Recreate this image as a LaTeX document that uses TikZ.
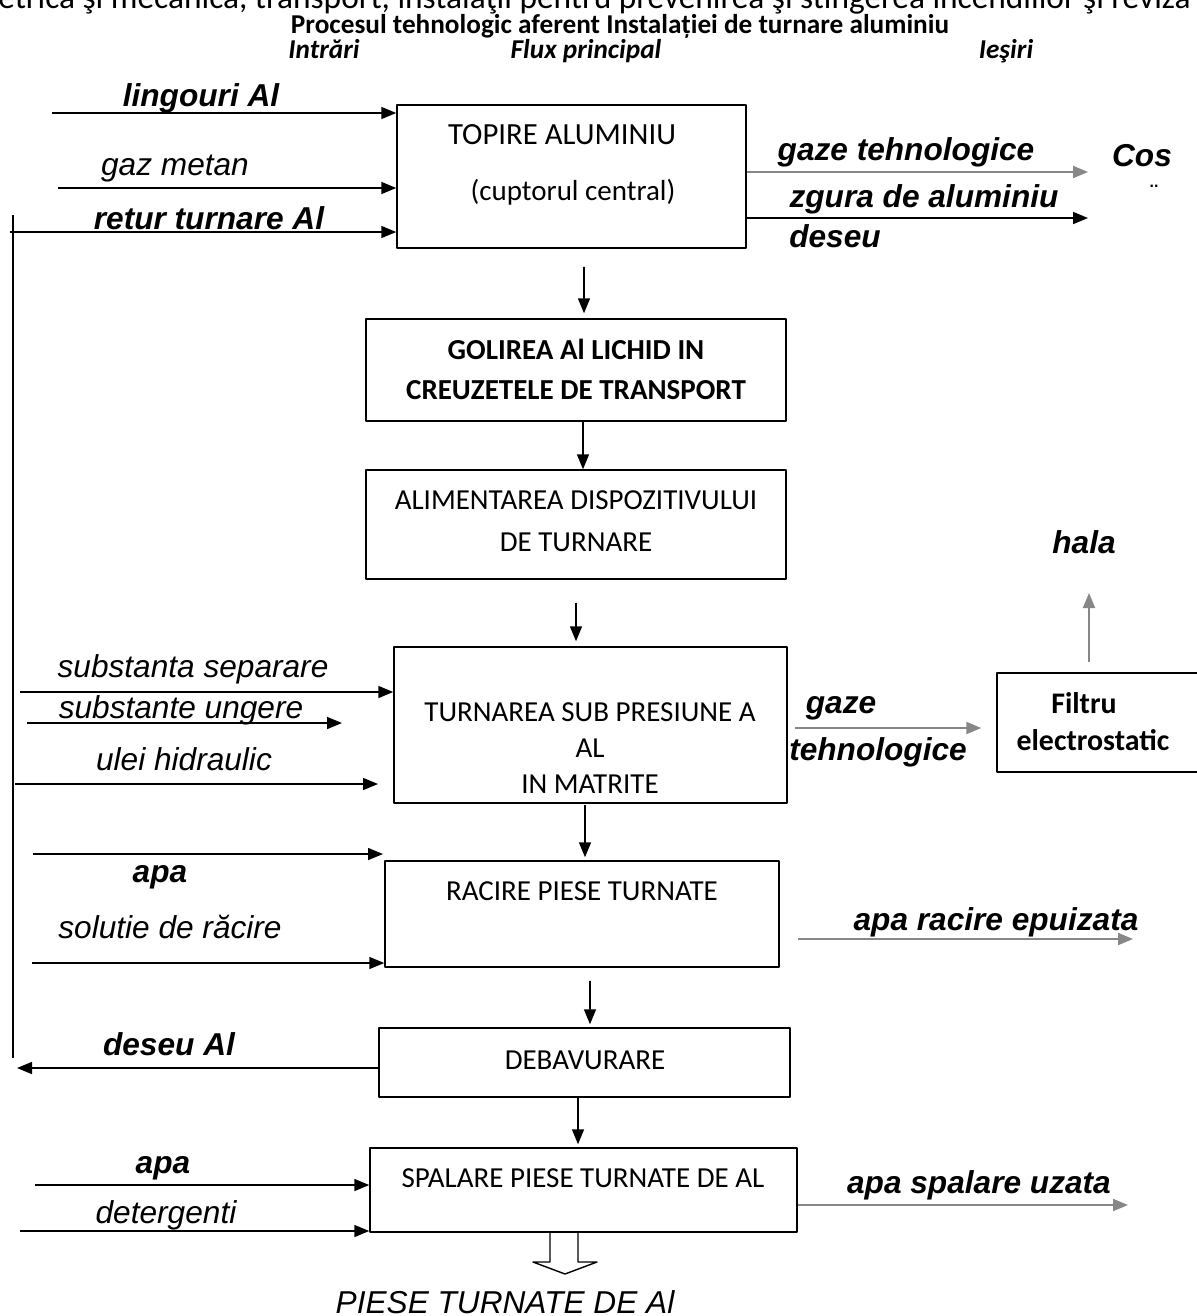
\documentclass[tikz,border=0pt]{standalone}
\usepackage{fontspec}
\setmainfont{Carlito}
\newfontfamily\arialf{Liberation Sans}
\usetikzlibrary{arrows.meta,calc,fit}
\definecolor{outgray}{RGB}{135,135,135}
\tikzset{
  box/.style={draw, line width=0.85pt, inner sep=0pt},
  boxtext/.style={font=\fontsize{16.5}{20.4}\selectfont, align=center, inner sep=0pt},
  head/.style={font=\bfseries\itshape\fontsize{15.5}{18}\selectfont, anchor=base, inner sep=0pt},
  lbl/.style={font=\arialf\itshape\fontsize{18}{21}\selectfont, inner sep=0pt, anchor=base},
  lblb/.style={font=\arialf\bfseries\itshape\fontsize{18}{21}\selectfont, inner sep=0pt, anchor=base},
  arr/.style={-{Triangle[length=3mm,width=2.4mm]}, line width=0.9pt},
  garr/.style={-{Triangle[length=3mm,width=2.4mm]}, line width=1.1pt, color=outgray},
}
\begin{document}
\begin{tikzpicture}[x=0.2mm, y=-0.2mm, line join=round]
\useasboundingbox (0,0) rectangle (1197,1316);
%%%%%%%%%%%%%%%%%%%%%%%%%%%%%%%%%
\node[font=\fontsize{19}{22}\selectfont, anchor=base west, inner sep=0pt] (antet) at (-2,8) {etrica şi mecanica, transport, instalaţii pentru prevenirea şi stingerea incendiilor şi reviza};
\node[font=\bfseries\fontsize{15.5}{18}\selectfont, anchor=base, inner sep=0pt] (titlu) at (620,33) {Procesul tehnologic aferent Instalației de turnare aluminiu};
\node[head] (intrari) at (324,58) {Intrări};
\node[head] (flux) at (586,58) {Flux principal};
\node[head] (iesiri) at (1006,58) {Ieşiri};
%%%%%%%%%%%%%%%%%%%%%%%%%%%%%%%%%
\node[box, fit={(397,105) (746,248)}] (topire) {};
\node[box, fit={(366,319) (786,421)}] (golire) {};
\node[box, fit={(366,470) (786,579)}] (aliment) {};
\node[box, fit={(394,647) (787,803)}] (turnare) {};
\node[box, fit={(385,861) (779,967)}] (racire) {};
\node[box, fit={(379,1028) (790,1097)}] (debav) {};
\node[box, fit={(370,1148) (797,1232)}] (spalare) {};
\node[box, fit={(997,673) (1220,772)}] (filtru) {};
%%%%%%%%%%%%%%%%%%%%%%%%%%%%%%%%%
\node[boxtext, font=\fontsize{17.5}{21}\selectfont] (t1a) at (562,135) {TOPIRE ALUMINIU};
\node[boxtext] (t1b) at (573,192) {(cuptorul central)};
\node[boxtext, font=\bfseries\fontsize{16.5}{22.7}\selectfont] (t2) at (576,369) {GOLIREA Al LICHID IN\\CREUZETELE DE TRANSPORT};
\node[boxtext, font=\fontsize{16.5}{23.8}\selectfont] (t3) at (576,521) {ALIMENTAREA DISPOZITIVULUI\\DE TURNARE};
\node[boxtext] (t4) at (590,748) {TURNAREA SUB PRESIUNE A\\AL\\IN MATRITE};
\node[boxtext] (t5) at (582,891) {RACIRE PIESE TURNATE};
\node[boxtext] (t6) at (585,1060) {DEBAVURARE};
\node[boxtext] (t7) at (583,1178) {SPALARE PIESE TURNATE DE AL};
\node[boxtext, font=\bfseries\fontsize{17}{21}\selectfont] (t8) at (1084,722) {Filtru\\\hspace*{0.6em}electrostatic};
%%%%%%%%%%%%%%%%%%%%%%%%%%%%%%%%%
\draw[arr] ($(topire.south)+(12.5,18)$) -- ($(golire.north)+(8,-5)$);
\draw[arr] ($(golire.south)+(7,0)$) -- ($(aliment.north)+(7,0)$);
\draw[arr] ($(aliment.south)+(0,23)$) -- ($(turnare.north)+(-14.5,-5)$);
\draw[arr] ($(turnare.south)+(-5.5,1)$) -- ($(racire.north)+(3,-3)$);
\draw[arr] ($(racire.south)+(8,13)$) -- ($(debav.north)+(5.5,-3)$);
\draw[arr] ($(debav.south)+(-6.5,0)$) -- ($(spalare.north)+(-5.5,-3)$);
\draw[line width=0.8pt] (550,1232) -- (550,1262) -- (533,1262) -- (565,1274) -- (597,1262) -- (578,1262) -- (578,1232);
%%%%%%%%%%%%%%%%%%%%%%%%%%%%%%%%%
\coordinate (lingS) at (52,113);
\coordinate (gazS) at (58,188);
\coordinate (retS) at (10,232);
\coordinate (retTop) at (13,215);
\coordinate (retBot) at (13,1058);
\coordinate (sepS) at (20,692);
\coordinate (ungS) at (27,723);
\coordinate (ungE) at (342,723);
\coordinate (uleiS) at (15,784);
\coordinate (uleiE) at (378,784);
\coordinate (apaS) at (33,854);
\coordinate (apaE) at (383,854);
\coordinate (solS) at (32,963);
\coordinate (desE) at (17,1068);
\coordinate (apbS) at (35,1185);
\coordinate (detS) at (20,1231);
%%%%%%%%%%%%%%%%%%%%%%%%%%%%%%%%%
\draw[arr] (lingS) -- (lingS -| topire.west);
\draw[arr] (gazS) -- (gazS -| topire.west);
\draw[arr] (retS) -- (retS -| topire.west);
\draw[line width=0.9pt] (retTop) -- (retBot);
\draw[arr] (sepS) -- (sepS -| turnare.west);
\draw[arr] (ungS) -- (ungE);
\draw[arr] (uleiS) -- (uleiE);
\draw[arr] (apaS) -- (apaE);
\draw[arr] (solS) -- (solS -| racire.west);
\draw[arr] (desE -| debav.west) -- (desE);
\draw[arr] (apbS) -- (apbS -| spalare.west);
\draw[arr] (detS) -- (detS -| spalare.west);
%%%%%%%%%%%%%%%%%%%%%%%%%%%%%%%%%
\coordinate (cosE) at (1088,172);
\coordinate (zgE) at (1088,218);
\coordinate (fgS) at (795,728);
\coordinate (halaE) at (1089,593);
\coordinate (arE) at (1133,939);
\coordinate (asE) at (1128,1205);
\draw[garr] (topire.east |- cosE) -- (cosE);
\draw[arr] (topire.east |- zgE) -- (zgE);
\draw[garr, shorten >=3mm] (fgS) -- (fgS -| filtru.west);
\draw[garr, shorten <=2mm] (filtru.north -| halaE) -- (halaE);
\draw[garr, shorten <=3.6mm] (racire.east |- arE) -- (arE);
\draw[garr] (spalare.east |- asE) -- (asE);
%%%%%%%%%%%%%%%%%%%%%%%%%%%%%%%%%
\node[lblb] (lingouri) at (201,106) {lingouri Al};
\node[lbl] (gaz) at (175,175) {gaz metan};
\node[lblb] (retur) at (209,229) {retur turnare Al};
\node[lbl] (separare) at (193,677) {substanta separare};
\node[lbl] (ungere) at (181,718) {substante ungere};
\node[lbl] (ulei) at (184,770) {ulei hidraulic};
\node[lblb] (apa1) at (160,882) {apa};
\node[lbl] (solutie) at (170,938) {solutie de răcire};
\node[lblb] (deseuAl) at (169,1055) {deseu Al};
\node[lblb] (apa2) at (163,1173) {apa};
\node[lbl] (detergenti) at (166,1223) {detergenti};
\node[lblb] (gazeT) at (906,160) {gaze tehnologice};
\node[lblb] (cos) at (1142,166) {Cos};
\node[font=\arialf\bfseries\fontsize{9}{10}\selectfont, inner sep=0pt] (cosp) at (1154,186) {..};
\node[lblb] (zgura) at (924,207) {zgura de aluminiu};
\node[lblb] (deseu) at (835,247) {deseu};
\node[lblb] (gaze) at (841,713) {gaze};
\node[lblb] (tehno) at (878,760) {tehnologice};
\node[lblb] (hala) at (1084,553) {hala};
\node[lblb] (apaRac) at (996,930) {apa racire epuizata};
\node[lblb] (apaSp) at (979,1193) {apa spalare uzata};
\node[lbl] (piese) at (505,1313) {PIESE TURNATE DE Al};
%%%%%%%%%%%%%%%%%%%%%%%%%%%%%%%%%
\end{tikzpicture}
\end{document}
